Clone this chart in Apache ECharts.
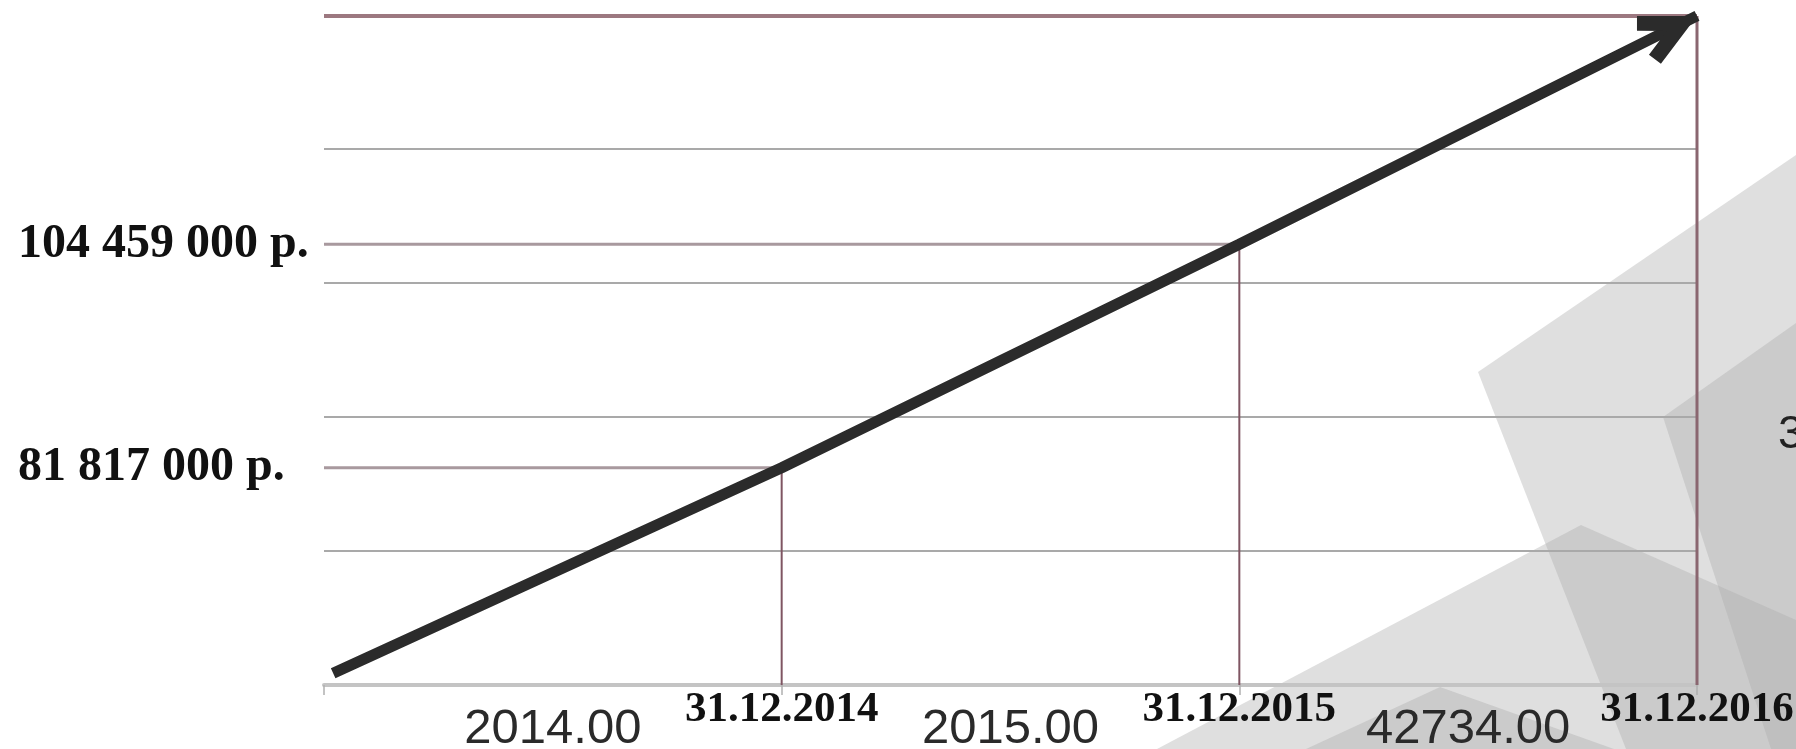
<!DOCTYPE html>
<html><head><meta charset="utf-8">
<script src="https://cdn.jsdelivr.net/npm/echarts@6/dist/echarts.min.js"></script>
<style>html,body{margin:0;padding:0;background:#fff}#c{width:1796px;height:749px}</style>
</head><body><div id="c"></div>
<script>
// ---- data ----
const categories = ['2014.00', '2015.00', '42734.00'];
const dates = ['31.12.2014', '31.12.2015', '31.12.2016'];
const values = [81817000, 104459000, 127600000];
const startPoint = [0.02, 61000000];
const yLabelValues = [81817000, 104459000];
const yMin = 59800000, yMax = 127690000;
const gridLevels = 5;

function fmtRub(v) {
  return String(v).replace(/\B(?=(\d{3})+(?!\d))/g, ' ') + ' р.';
}

const ARROW = 'path://M26.8,-60.4 M26.8,0 L53.6,53.7 L40.2,60.4 L26.8,33.6 L13.4,60.4 L0,53.7 Z';

const chart = echarts.init(document.getElementById('c'), null, {renderer: 'canvas'});

const hStyles = [{color: '#a8999e', width: 3}, {color: '#a8999e', width: 3}, {color: '#9c7880', width: 4}];
const vStyles = [{color: '#7f5562', width: 2}, {color: '#7f5562', width: 2}, {color: '#8a6670', width: 3}];

const series = [];
dates.forEach((d, i) => {
  series.push({type: 'line', xAxisIndex: 1, yAxisIndex: 1, data: [[0, values[i]], [i + 1, values[i]]],
    symbol: 'none', lineStyle: hStyles[i], silent: true, z: 3});
  series.push({type: 'line', xAxisIndex: 1, yAxisIndex: 1, data: [[i + 1, values[i]], [i + 1, yMin]],
    symbol: 'none', lineStyle: vStyles[i], silent: true, z: 3});
});
const arrowData = [startPoint].concat(values.map((v, i) => [i + 1, v]));
const arrowIdx = series.length;
series.push({
  type: 'line', xAxisIndex: 1, yAxisIndex: 1, z: 5, silent: true,
  showSymbol: true, symbol: 'none',
  data: arrowData.map((p, i) => i === arrowData.length - 1
    ? {value: p, symbol: ARROW, symbolSize: [53.6, 120.8], symbolRotate: 0}
    : {value: p, symbol: 'none'}),
  lineStyle: {color: '#2b2b2b', width: 11},
  itemStyle: {color: '#2b2b2b', borderWidth: 0}
});

const option = {
  animation: false,
  grid: {left: 324, right: 99, top: 15, bottom: 64, containLabel: false, outerBoundsMode: 'none'},
  xAxis: [
    {type: 'category', data: categories, boundaryGap: true, position: 'bottom',
      axisLine: {onZero: false, lineStyle: {color: '#c4c4c4', width: 4}},
      axisTick: {show: true, length: 10, lineStyle: {color: '#b0b0b0', width: 1.5}},
      axisLabel: {margin: 20, fontSize: 49, color: '#2a2a2a', fontFamily: 'Liberation Sans, Arial, sans-serif'},
      splitLine: {show: false}},
    {type: 'value', min: 0, max: 3, position: 'bottom',
      axisLine: {show: false, onZero: false}, axisTick: {show: false}, splitLine: {show: false},
      axisLabel: {customValues: [1, 2, 3], margin: 3, fontSize: 43, fontWeight: 'bold', color: '#111',
        fontFamily: 'Liberation Serif, Times New Roman, serif',
        formatter: v => dates[Math.round(v) - 1] || ''}}
  ],
  yAxis: [
    {type: 'value', min: 0, max: gridLevels, interval: 1, position: 'left',
      axisLine: {show: false}, axisTick: {show: false}, axisLabel: {show: false},
      splitLine: {show: true, lineStyle: {color: '#a9a9a9', width: 2}}},
    {type: 'value', min: yMin, max: yMax, position: 'left',
      axisLine: {show: false, onZero: false}, axisTick: {show: false}, splitLine: {show: false},
      axisLabel: {customValues: yLabelValues, align: 'left', margin: 306, fontSize: 48, fontWeight: 'bold',
        color: '#111', fontFamily: 'Liberation Serif, Times New Roman, serif', padding: [0, 0, 12, 0],
        formatter: v => fmtRub(v)}}
  ],
  graphic: [
    {type: 'polygon', z: -10, shape: {points: [[1478, 372], [1796, 155], [1796, 749], [1626, 749]]}, style: {fill: 'rgba(170,170,170,0.38)'}},
    {type: 'polygon', z: -10, shape: {points: [[1663, 417], [1796, 323], [1796, 749], [1771, 749]]}, style: {fill: 'rgba(170,170,170,0.38)'}},
    {type: 'polygon', z: -10, shape: {points: [[1157, 749], [1581, 525], [1796, 620], [1796, 749]]}, style: {fill: 'rgba(170,170,170,0.38)'}},
    {type: 'polygon', z: -10, shape: {points: [[1306, 749], [1440, 687], [1614, 749]]}, style: {fill: 'rgba(170,170,170,0.38)'}},
    {type: 'text', z: -5, left: 1778, top: 412, style: {text: '3', fontSize: 46, fill: '#222', fontFamily: 'Liberation Sans, Arial, sans-serif'}}
  ],
  series: series
};
chart.setOption(option);

const pA = chart.convertToPixel({seriesIndex: arrowIdx}, arrowData[arrowData.length - 2]);
const pB = chart.convertToPixel({seriesIndex: arrowIdx}, arrowData[arrowData.length - 1]);
const ang = Math.atan2(-(pB[1] - pA[1]), pB[0] - pA[0]) * 180 / Math.PI;
option.series[arrowIdx].data[arrowData.length - 1].symbolRotate = ang - 90;
chart.setOption(option);
</script></body></html>
